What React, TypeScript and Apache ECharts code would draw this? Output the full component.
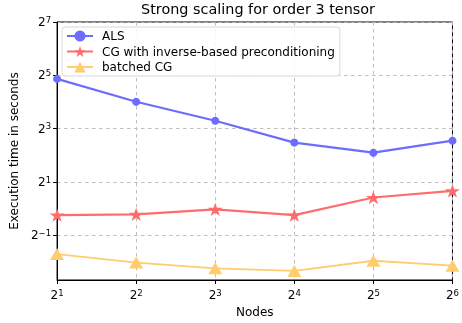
import React, { useEffect, useRef } from "react";
import * as echarts from "echarts";

const nodes = [2, 4, 8, 16, 32, 64];
const alsTimes = [29.2, 16.1, 9.85, 5.58, 4.29, 5.86];
const cgInvTimes = [0.847, 0.865, 0.986, 0.847, 1.34, 1.59];
const batchedCgTimes = [0.308, 0.247, 0.213, 0.199, 0.259, 0.228];
const seriesNames = ["ALS", "CG with inverse-based preconditioning", "batched CG"];
const yTickExps = [-1, 1, 3, 5, 7];

const FONT = "DejaVu Sans";
const STAR =
  "path://M0,-100L22.45,-30.9L95.11,-30.9L36.33,11.8L58.78,80.9L0,38.2L-58.78,80.9L-36.33,11.8L-95.11,-30.9L-22.45,-30.9Z";

const supLabel = (v: number) => {
  const n = Math.round(v);
  const s = n < 0 ? "\u2212" + Math.abs(n) : String(n);
  return "{b|2}{s|" + s + "}";
};

const rich = {
  b: { fontSize: 12, lineHeight: 14, fontFamily: FONT, color: "#000" },
  s: { fontSize: 8.5, lineHeight: 9, verticalAlign: "top", fontFamily: FONT, color: "#000" },
};

export default function App() {
  const ref = useRef<HTMLDivElement>(null);
  useEffect(() => {
    const chart = echarts.init(ref.current!, null, { renderer: "svg" });
    const toPts = (arr: number[]) => arr.map((v, i) => [Math.log2(nodes[i]), Math.log2(v)]);
    const gridLine = { show: true, lineStyle: { color: "#b8b8b8", type: [3.5, 3.5], width: 0.9 } };
    chart.setOption({
      animation: false,
      textStyle: { fontFamily: FONT },
      grid: { left: 57, right: 4, top: 22, bottom: 41, show: true, borderColor: "#000", borderWidth: 1 },
      graphic: [
        {
          type: "text",
          x: 258,
          y: 2,
          style: { text: "Strong scaling for order 3 tensor", fontSize: 14.4, fontFamily: FONT, fill: "#000", textAlign: "center" },
        },
      ],
      xAxis: {
        type: "value",
        min: 1,
        max: 6,
        interval: 1,
        name: "Nodes",
        nameLocation: "middle",
        nameGap: 26,
        nameTextStyle: { fontSize: 12, fontFamily: FONT, color: "#000" },
        axisLine: { onZero: false, lineStyle: { color: "#000" } },
        axisTick: { show: true, length: 4, lineStyle: { color: "#000" } },
        axisLabel: { formatter: supLabel, rich, margin: 8 },
        splitLine: gridLine,
      },
      yAxis: {
        type: "value",
        min: -2.67,
        max: 7,
        name: "Execution time in seconds",
        nameLocation: "middle",
        nameGap: 34,
        nameTextStyle: { fontSize: 12, fontFamily: FONT, color: "#000" },
        axisLine: { show: true, onZero: false, lineStyle: { color: "#000" } },
        axisTick: { show: true, length: 4, lineStyle: { color: "#000" }, customValues: yTickExps },
        axisLabel: { formatter: supLabel, rich, margin: 6, customValues: yTickExps },
        splitLine: gridLine,
      },
      legend: {
        left: 62,
        top: 27,
        orient: "vertical",
        itemWidth: 26,
        itemHeight: 14,
        itemGap: 3.5,
        padding: [3, 5, 3, 4],
        backgroundColor: "rgba(255,255,255,0.85)",
        borderColor: "#d8d8d8",
        borderWidth: 1,
        borderRadius: 3,
        textStyle: { fontSize: 12, fontFamily: FONT, color: "#000", padding: [0, 0, 0, 4] },
        data: seriesNames,
      },
      series: [
        {
          name: seriesNames[0],
          type: "line",
          data: toPts(alsTimes),
          symbol: "circle",
          symbolSize: 8,
          color: "#6c6cff",
          lineStyle: { width: 2.2 },
        },
        {
          name: seriesNames[1],
          type: "line",
          data: toPts(cgInvTimes),
          symbol: STAR,
          symbolSize: [15, 14],
          symbolKeepAspect: true,
          color: "#ff6c6c",
          lineStyle: { width: 2.2 },
        },
        {
          name: seriesNames[2],
          type: "line",
          data: toPts(batchedCgTimes),
          symbol: "triangle",
          symbolSize: [14, 12],
          color: "#ffcc6e",
          lineStyle: { width: 1.8 },
        },
      ],
    });
    return () => chart.dispose();
  }, []);
  return <div ref={ref} style={{ position: "fixed", left: 0, top: 0, width: 462, height: 323 }} />;
}
